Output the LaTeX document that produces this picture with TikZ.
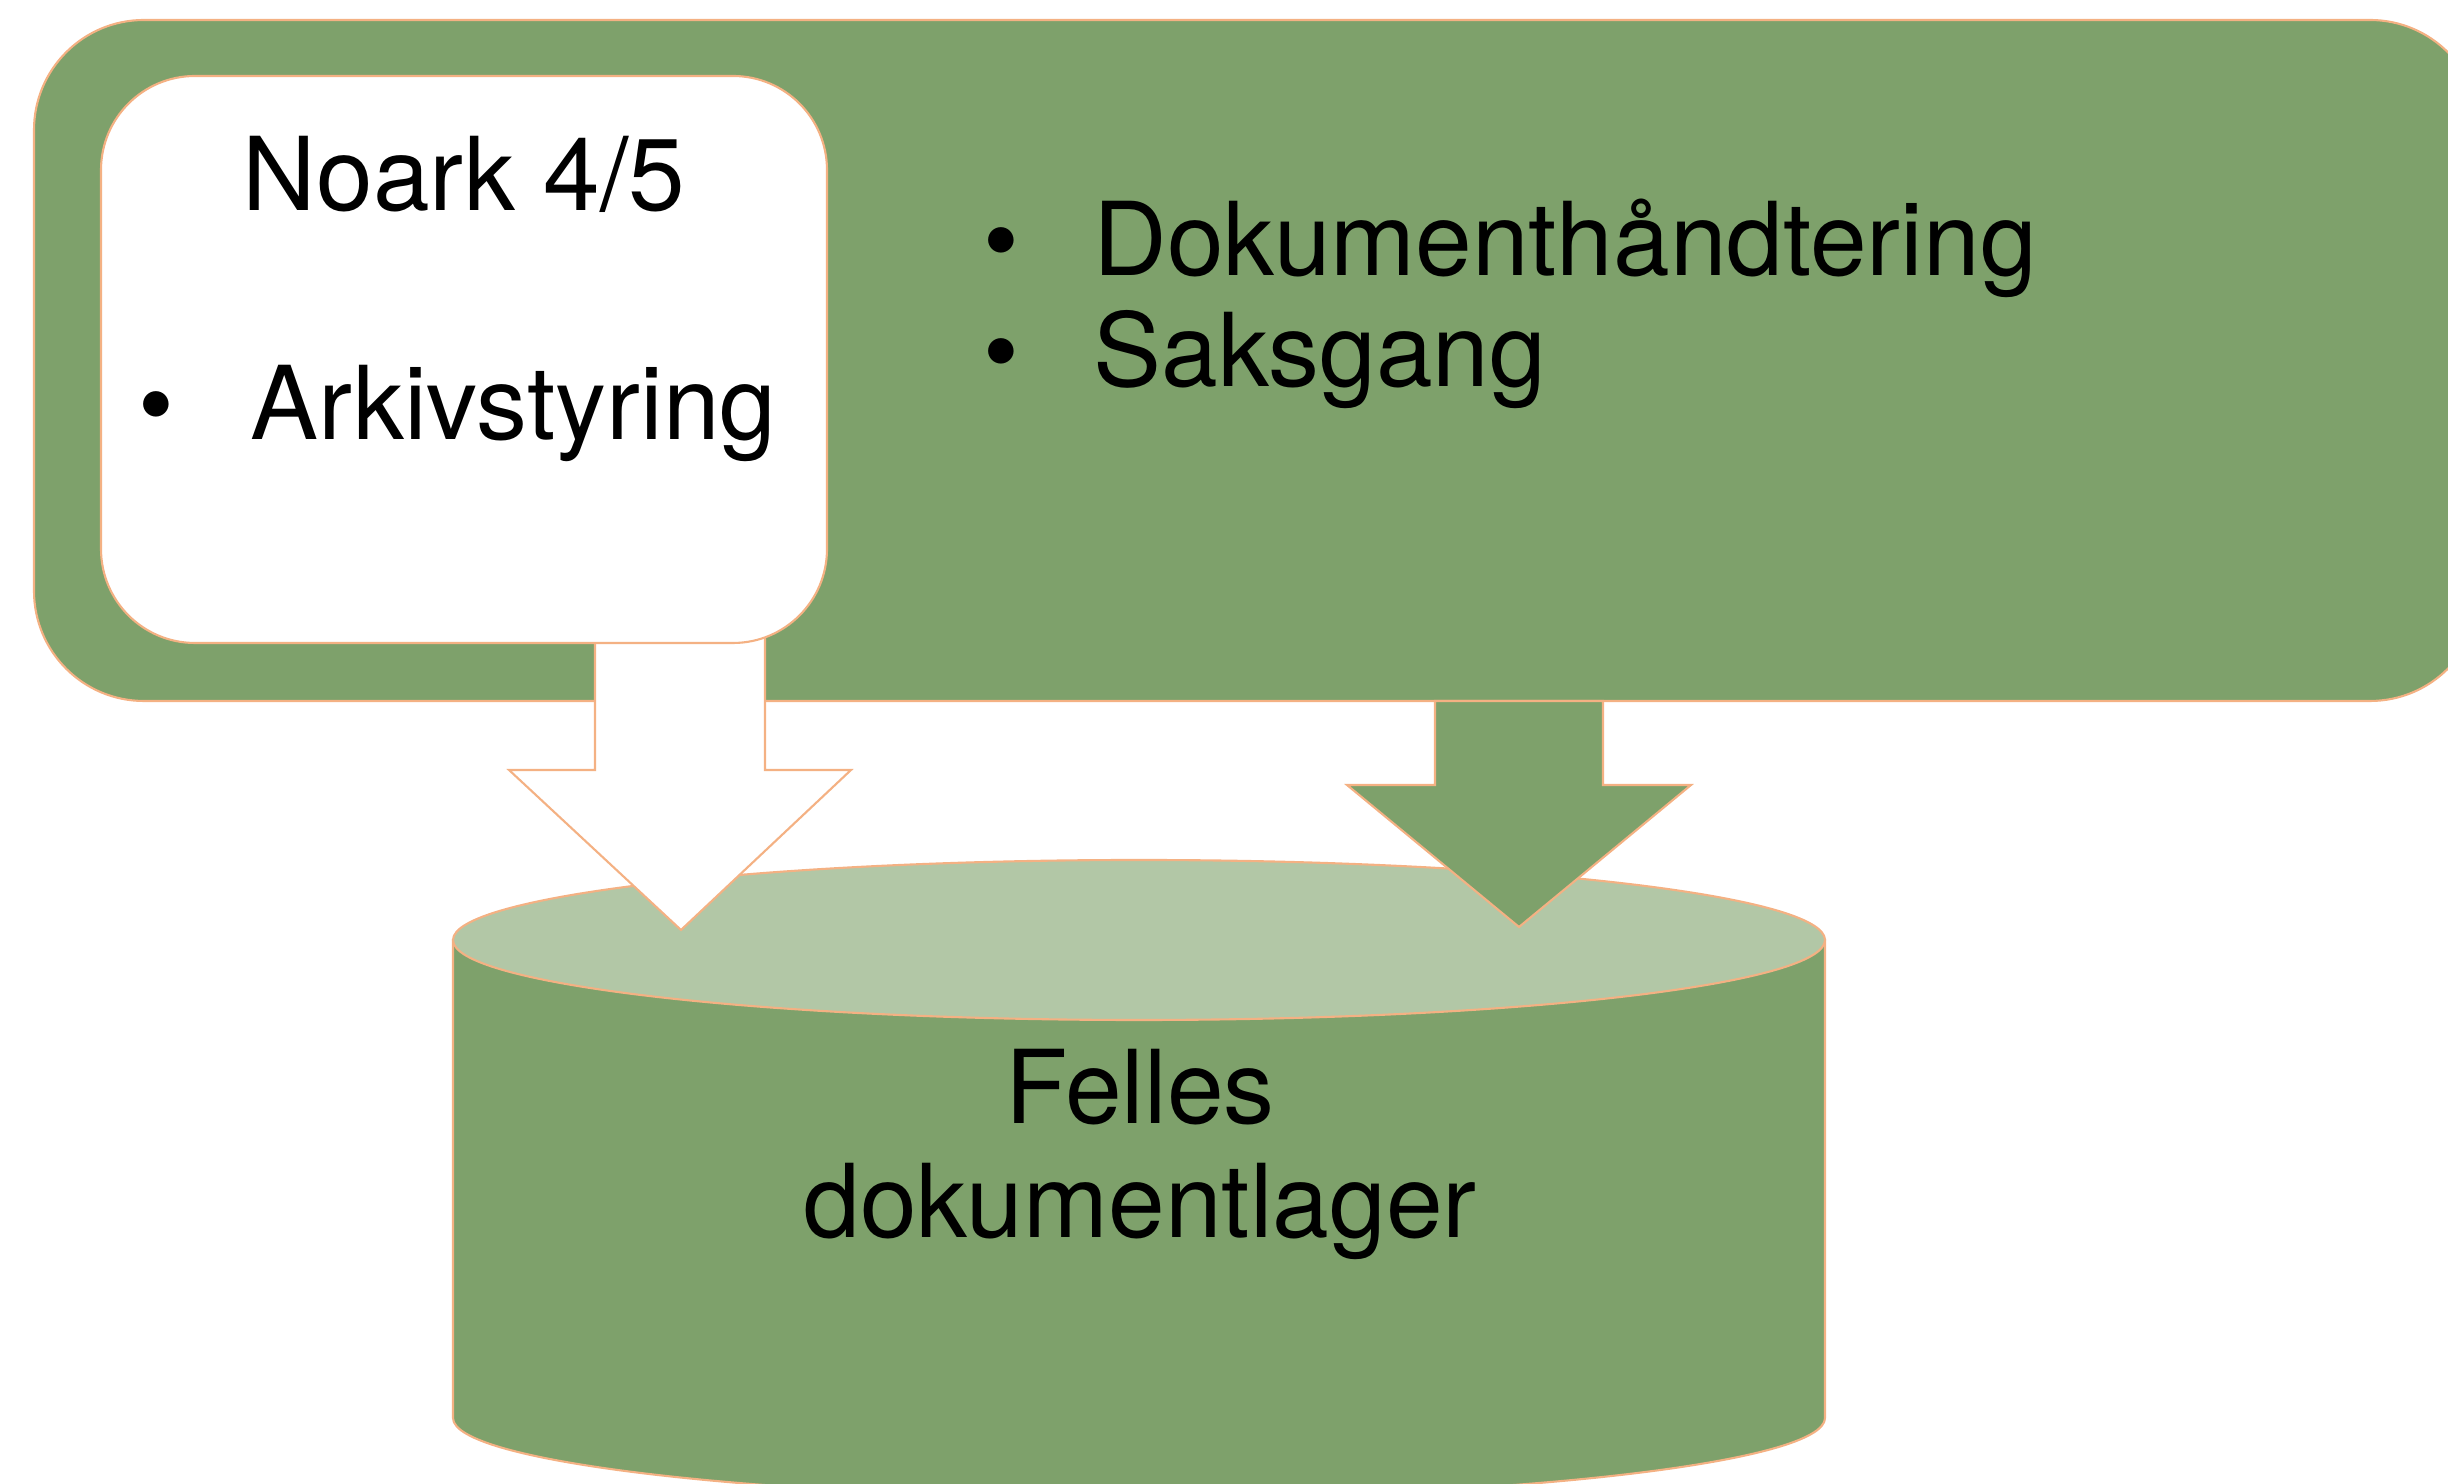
\documentclass[tikz,border=0pt]{standalone}
\usepackage{fontspec}
\setmainfont{TeX Gyre Heros}
\definecolor{boxgreen}{HTML}{7EA16B}
\definecolor{topgreen}{HTML}{B2C7A6}
\definecolor{edgeorange}{HTML}{F4B183}

\begin{document}
\begin{tikzpicture}[every node/.style={black,inner sep=0,font=\fontsize{29}{34}\selectfont},
	part/.style={draw=edgeorange,line width=0.6pt}]
	\clip (0,0) rectangle (24.48,14.84);

	\coordinate (s0) at (0.34,7.83);
	\coordinate (s1) at (24.80,14.64);
	\coordinate (c0) at (11.39,5.44);
	\coordinate (tipA) at (6.81,5.54);
	\coordinate (tipB) at (15.19,5.57);

	\filldraw[part,fill=boxgreen,rounded corners=1.1cm] (s0) rectangle (s1);

	\filldraw[part,fill=boxgreen] (4.53,5.44) -- (4.53,0.66) arc[start angle=180,end angle=360,x radius=6.86,y radius=0.80] -- (18.25,5.44) -- cycle;
	\filldraw[part,fill=topgreen] (c0) ellipse (6.86 and 0.80);

	\filldraw[part,fill=white] (tipA) -- ++(-1.72,1.60) -- ++(0.86,0) -- ++(0,1.70) -- ++(1.70,0) -- ++(0,-1.70) -- ++(0.86,0) -- cycle;
	\filldraw[part,fill=boxgreen] (tipB) -- ++(-1.72,1.42) -- ++(0.88,0) -- ++(0,0.84) -- ++(1.68,0) -- ++(0,-0.84) -- ++(0.88,0) -- cycle;

	\filldraw[part,fill=white,rounded corners=0.94cm] (1.01,8.41) rectangle (8.27,14.08);

	\node[anchor=base] (noark) at (4.64,12.73) {Noark 4/5};
	\node[anchor=base] (dot1) at (1.56,10.44) {•};
	\node[anchor=base west] (arkiv) at (2.50,10.44) {Arkivstyring};
	\node[anchor=base] (dot2) at (10.01,12.08) {•};
	\node[anchor=base west] (dok) at (10.93,12.08) {Dokumenthåndtering};
	\node[anchor=base] (dot3) at (10.01,10.97) {•};
	\node[anchor=base west] (saks) at (10.93,10.97) {Saksgang};

	\node[anchor=base] (felles) at (11.40,3.60) {Felles};
	\node[anchor=base] (lager) at (11.40,2.46) {dokumentlager};
\end{tikzpicture}
\end{document}
